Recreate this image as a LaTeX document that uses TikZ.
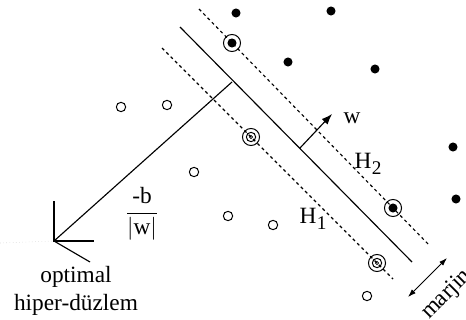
\documentclass[tikz,border=0pt]{standalone}
\usepackage{amsmath}
\usepackage{fontspec}
\setmainfont{Liberation Serif}
\usetikzlibrary{arrows.meta}
\tikzset{
 posdot/.style={circle,fill,inner sep=0pt,minimum size=6.8pt},
 negdot/.style={circle,draw,line width=.75pt,inner sep=0pt,minimum size=7pt},
 svring/.style={circle,draw,line width=.75pt,inner sep=0pt,minimum size=12.8pt},
 svcore/.style={circle,draw,line width=.6pt,inner sep=0pt,minimum size=2.4pt},
 hplane/.style={line width=.85pt},
 mplane/.style={line width=.85pt,dash pattern=on 2.3pt off 2.3pt},
 lbl/.style={font=\fontsize{17.5}{21}\selectfont,inner sep=1pt}
}
\newcommand{\Hsub}[1]{H\kern.3pt\raisebox{-.5ex}{\fontsize{14.5}{14.5}\selectfont#1}}

\begin{document}
\begin{tikzpicture}[x=.75pt,y=-.75pt]
\useasboundingbox(0,0)rectangle(466,320);
% hyperplane and margin planes
\coordinate(h0a)at(180,27);\coordinate(h0b)at(412,262);\draw[hplane](h0a)--(h0b);
\coordinate(h2a)at(199,9);\coordinate(h2b)at(430,246);\draw[mplane](h2a)--(h2b);
\coordinate(h1a)at(162,48);\coordinate(h1b)at(393,279);\draw[mplane](h1a)--(h1b);
% origin and distance
\coordinate(o)at(54,241);\coordinate(oy)at(54,201);\coordinate(ox)at(94,241);\coordinate(oz)at(90,262);\coordinate(ol)at(0,243);
\draw[hplane](oy)--(o)--(ox);\draw[hplane](o)--(oz);\draw[gray!40,dotted](ol)--(o);
\coordinate(ft)at(232,82);\draw[hplane](o)--(ft);
% w and margin arrows
\coordinate(w0)at(300,148);\coordinate(w1)at(332,114);\draw[hplane,-{Latex[length=8pt,width=6pt]}](w0)--(w1);
\coordinate(m0)at(408,297);\coordinate(m1)at(447,258);\draw[line width=.6pt,{Latex[length=6pt,width=4pt]}-{Latex[length=6pt,width=4pt]}](m0)--(m1);
% class +1
\node[posdot](p1)at(236,13){};\node[posdot](p2)at(331,11){};\node[posdot](p3)at(288,62){};\node[posdot](p4)at(375,69){};\node[posdot](p5)at(453,147){};\node[posdot](p6)at(456,199){};
\node[posdot](ps1)at(232,43){};\node[svring](ps1r)at(ps1){};\node[posdot](ps2)at(393,208){};\node[svring](ps2r)at(ps2){};
% class -1
\node[negdot](n1)at(121,107){};\node[negdot](n2)at(167,105){};\node[negdot](n3)at(194,172){};\node[negdot](n4)at(228,216){};\node[negdot](n5)at(273,225){};\node[negdot](n6)at(367,296){};
\node[negdot](ns1)at(251,137){};\node[svring](ns1r)at(ns1){};\node[svcore](ns1c)at(ns1){};
\node[negdot](ns2)at(377,263){};\node[svring](ns2r)at(ns2){};\node[svcore](ns2c)at(ns2){};
% labels
\node[lbl](wl)at(352,118){w};\node[lbl](h2l)at(368,164){\Hsub{2}};\node[lbl](h1l)at(313,219){\Hsub{1}};
\node[lbl](bl)at(142,214){$\dfrac{\text{-b}}{|\text{w}|}$};
\node[lbl,align=center](opt)at(76,291){optimal\\hiper-düzlem};
\node[lbl,rotate=45,anchor=base west](mj)at(428,321){marjin};
\end{tikzpicture}
\end{document}
